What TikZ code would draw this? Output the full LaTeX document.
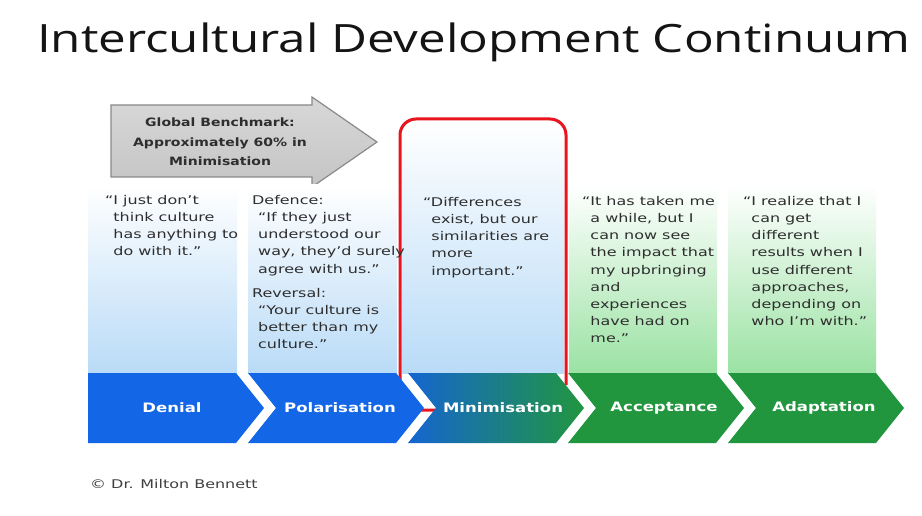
\documentclass[tikz,border=0pt]{standalone}
\usepackage{fontspec}
\newfontfamily\panelfont[FakeStretch=1.33]{DejaVu Sans}
\newfontfamily\labelfont[FakeStretch=1.27]{DejaVu Sans}
\newfontfamily\arrowfont[FakeStretch=1.22]{DejaVu Sans}
\newfontfamily\titlefont[FakeStretch=1.265]{Open Sans}
\definecolor{chblue}{HTML}{1366E6}
\definecolor{chgreen}{HTML}{21963F}
\definecolor{chteal}{HTML}{127E8C}
\definecolor{chblueL}{HTML}{1565D0}
\definecolor{pblue}{HTML}{B9DBF7}
\definecolor{pgreen}{HTML}{9BE2A3}
\definecolor{redline}{HTML}{E8141E}
\definecolor{txtgray}{HTML}{2E2E2E}
\definecolor{arrowtop}{HTML}{D8D8D8}
\definecolor{arrowbot}{HTML}{C4C4C4}
\definecolor{arrowedge}{HTML}{8A8A8A}
\tikzset{
  paneltext/.style={anchor=north west, inner sep=0pt, align=left, text=txtgray,
    font=\panelfont\fontsize{12}{17.2}\selectfont},
  chlabel/.style={text=white, inner sep=0pt, font=\labelfont\bfseries\fontsize{13}{15}\selectfont},
  bluepanel/.style={top color=white, bottom color=pblue, draw=none},
  greenpanel/.style={top color=white, bottom color=pgreen, draw=none},
}
\begin{document}
\begin{tikzpicture}[x=1pt,y=-1pt]
\useasboundingbox (0,0) rectangle (922,516);
\fill[white] (0,0) rectangle (922,516);
% title
\node[anchor=base west, inner sep=0pt, text=black!92, font=\titlefont\fontsize{39}{44}\selectfont] (title) at (37,53) {Intercultural Development Continuum};
% gray arrow
\path[draw=arrowedge, line width=1.2pt, top color=arrowtop, bottom color=arrowbot]
  (111,105) -- (312,105) -- (312,97) -- (377,142) -- (312,187) -- (312,177) -- (111,177) -- cycle;
\node[align=center, text=txtgray, inner sep=0pt, font=\arrowfont\bfseries\fontsize{11.5}{19.5}\selectfont] (bench) at (220,142)
  {Global Benchmark:\\Approximately 60\% in\\Minimisation};
% panels
\path[bluepanel] (88,185) rectangle (237,373);
\path[bluepanel] (248,185) rectangle (397,373);
\path[top color=white, middle color=white!88!pblue, bottom color=pblue, draw=none] (402,121) rectangle (564,373);
\path[greenpanel] (569,185) rectangle (717,373);
\path[greenpanel] (728,185) rectangle (876,373);
% red frame
\coordinate (rf1) at (566,385);
\coordinate (rf2) at (440,410);
\draw[redline, line width=3pt, rounded corners=16pt] (rf1) -- (566,119) -- (400,119) -- (400,410) -- (rf2);
% chevrons
\fill[chblue] (88,373) -- (236,373) -- (264,408) -- (236,443) -- (88,443) -- cycle;
\fill[chblue] (248,373) -- (396,373) -- (424,408) -- (396,443) -- (248,443) -- (276,408) -- cycle;
\path[left color=chblueL, middle color=chteal, right color=chgreen] (408,373) -- (556,373) -- (584,408) -- (556,443) -- (408,443) -- (436,408) -- cycle;
\fill[chgreen] (568,373) -- (716,373) -- (744,408) -- (716,443) -- (568,443) -- (596,408) -- cycle;
\fill[chgreen] (728,373) -- (876,373) -- (904,408) -- (876,443) -- (728,443) -- (756,408) -- cycle;
\node[chlabel] (den) at (172,408) {Denial};
\node[chlabel] (pol) at (340,408) {Polarisation};
\node[chlabel] (min) at (503,408) {Minimisation};
\node[chlabel] (acc) at (664,408) {Acceptance};
\node[chlabel] (ada) at (824,408) {Adaptation};
% panel texts
\node[paneltext] (t1) at (105,195) {“I just don’t\\\phantom{“}think culture\\\phantom{“}has anything to\\\phantom{“}do with it.”};
\node[paneltext] (t2a) at (252,195) {Defence:\\\hspace{6pt}“If they just\\\hspace{6pt}understood our\\\hspace{6pt}way, they’d surely\\\hspace{6pt}agree with us.”};
\node[paneltext] (t2b) at (252,288) {Reversal:\\\hspace{6pt}“Your culture is\\\hspace{6pt}better than my\\\hspace{6pt}culture.”};
\node[paneltext] (t3) at (423,197) {“Differences\\\phantom{“}exist, but our\\\phantom{“}similarities are\\\phantom{“}more\\\phantom{“}important.”};
\node[paneltext] (t4) at (582,196) {“It has taken me\\\phantom{“}a while, but I\\\phantom{“}can now see\\\phantom{“}the impact that\\\phantom{“}my upbringing\\\phantom{“}and\\\phantom{“}experiences\\\phantom{“}have had on\\\phantom{“}me.”};
\node[paneltext] (t5) at (743,196) {“I realize that I\\\phantom{“}can get\\\phantom{“}different\\\phantom{“}results when I\\\phantom{“}use different\\\phantom{“}approaches,\\\phantom{“}depending on\\\phantom{“}who I’m with.”};
% copyright
\node[anchor=base west, inner sep=0pt, text=black!75, font=\panelfont\fontsize{12}{14}\selectfont] (copy) at (90,488) {© Dr. Milton Bennett};
\end{tikzpicture}
\end{document}
